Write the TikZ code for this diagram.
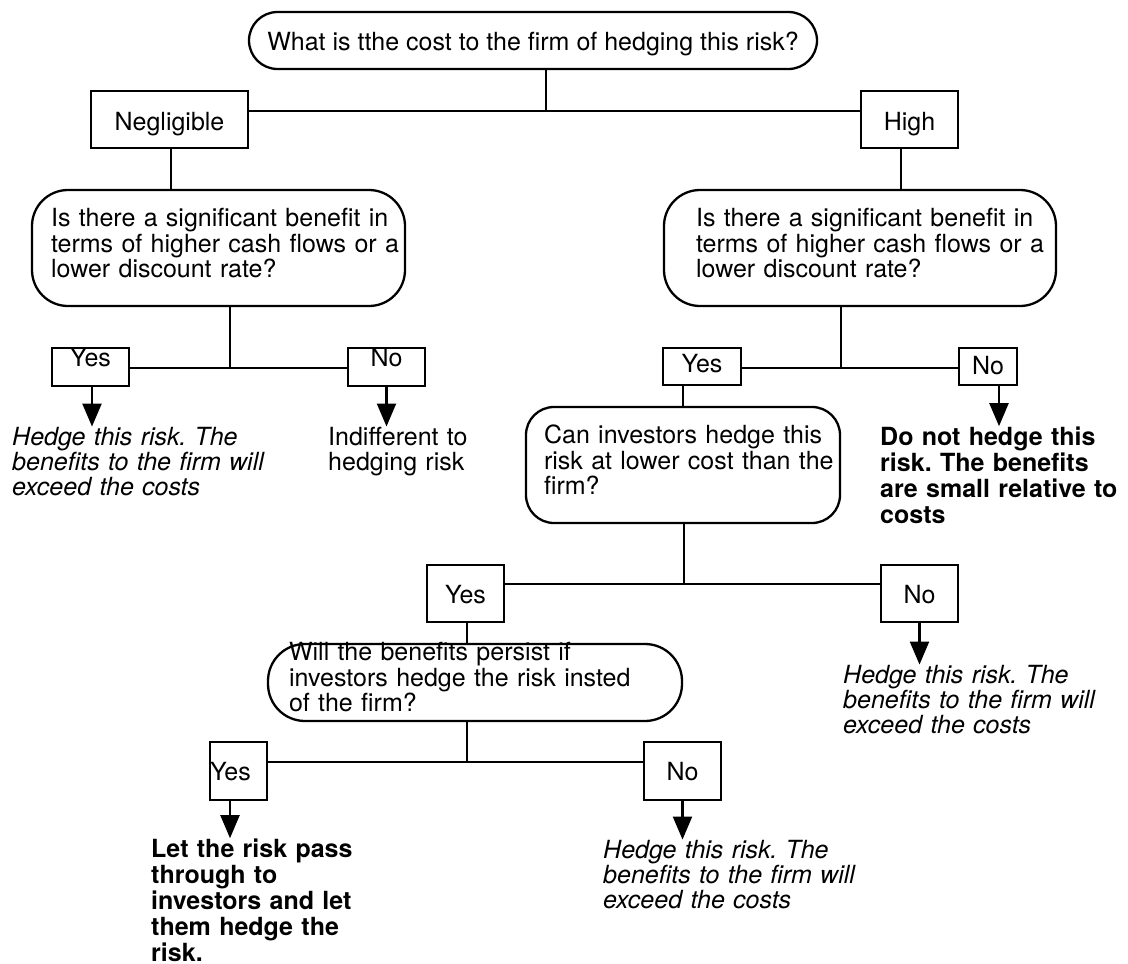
\documentclass[tikz,border=0pt]{standalone}
\usepackage{fontspec}
\setmainfont{TeX Gyre Heros}
\usetikzlibrary{arrows.meta,calc}
\frenchspacing
\begin{document}
\begin{tikzpicture}[x=1pt,y=-1pt,
  every node/.style={font=\fontsize{25}{25.5}\selectfont, inner sep=0pt},
  sqbox/.style={draw, line width=2.3pt, rectangle},
  rbox/.style={draw, line width=2.3pt, rectangle, rounded corners=#1},
  qtext/.style={anchor=base west, align=left, text width=430pt},
  ittext/.style={anchor=base west, align=left, text width=430pt, font=\fontsize{25}{25}\selectfont\itshape},
  bftext/.style={anchor=base west, align=left, text width=430pt, font=\fontsize{25}{26}\selectfont\bfseries},
  conn/.style={line width=2.2pt},
  arr/.style={line width=2.2pt, -{Triangle[length=23pt,width=19pt]}},
]
\useasboundingbox (0,0) rectangle (1128,964);

% top question
\node[rbox=28.5pt, minimum width=568pt, minimum height=57pt, text height=38pt, text depth=19pt] (top) at (533,40.5) {What is tthe cost to the firm of hedging this risk?};

% first level
\node[sqbox, minimum width=157pt, minimum height=57pt, text height=39pt, text depth=18pt] (neg) at (169.5,119.5) {Negligible};
\node[sqbox, minimum width=97pt, minimum height=57pt, text height=39pt, text depth=18pt] (high) at (909.5,119.5) {High};

% question boxes
\node[rbox=36pt, minimum width=373pt, minimum height=116pt] (q1) at (218.5,248) {};
\node[qtext] (q1t) at ($(q1.north west)+(20,38)$) {Is there a significant benefit in\\terms of higher cash flows or a\\lower discount rate?};
\node[rbox=36pt, minimum width=392pt, minimum height=116pt] (q2) at (860,248) {};
\node[qtext] (q2t) at ($(q2.north west)+(33,38)$) {Is there a significant benefit in\\terms of higher cash flows or a\\lower discount rate?};

% second level left
\node[sqbox, minimum width=77pt, minimum height=38pt, text height=18pt, text depth=20pt] (yes1) at (90.5,367) {Yes};
\node[sqbox, minimum width=77pt, minimum height=38pt, text height=18pt, text depth=20pt] (no1) at (386.5,367) {No};
% second level right
\node[sqbox, minimum width=78pt, minimum height=37pt, text height=24pt, text depth=13pt] (yes2) at (702,366.5) {Yes};
\node[sqbox, minimum width=58pt, minimum height=37pt, text height=26pt, text depth=11pt] (no2) at (988,366.5) {No};

% outcomes level 2
\node[ittext] (o1) at (12,445) {Hedge this risk. The\\benefits to the firm will\\exceed the costs};
\node[qtext] (o2) at (328,445) {Indifferent to\\hedging risk};
\node[bftext] (o3) at (880,445) {Do not hedge this\\risk. The benefits\\are small relative to\\costs};

% can investors
\node[rbox=28pt, minimum width=314pt, minimum height=116pt] (q3) at (683,465) {};
\node[qtext] (q3t) at ($(q3.north west)+(19,38)$) {Can investors hedge this\\risk at lower cost than the\\firm?};

\node[sqbox, minimum width=77pt, minimum height=57pt, text height=38pt, text depth=19pt] (yes3) at (465.5,593.5) {Yes};
\node[sqbox, minimum width=77pt, minimum height=57pt, text height=38pt, text depth=19pt] (no3) at (919.5,593.5) {No};

\node[ittext] (o4) at (843,683) {Hedge this risk. The\\benefits to the firm will\\exceed the costs};

% will the benefits persist
\node[rbox=37pt, minimum width=414pt, minimum height=77pt] (q4) at (475,682.5) {};
\node[qtext] (q4t) at ($(q4.north west)+(22,18)$) {Will the benefits persist if\\investors hedge the risk insted\\of the firm?};

\node[sqbox, minimum width=57pt, minimum height=58pt, text width=57pt, align=left, text height=38pt, text depth=20pt] (yes4) at (238.5,771) {Yes};
\node[sqbox, minimum width=77pt, minimum height=58pt, text height=38pt, text depth=20pt] (no4) at (682.5,771) {No};

\node[bftext] (o5) at (151,857) {Let the risk pass\\through to\\investors and let\\them hedge the\\risk.};
\node[ittext] (o6) at (603,858) {Hedge this risk. The\\benefits to the firm will\\exceed the costs};

% junctions
\coordinate (j0) at (546,111);
\coordinate (j1) at (230,368);
\coordinate (j2) at (841,368);
\coordinate (j3) at (684,584);
\coordinate (j4) at (467,762);

% connectors
\draw[conn] (top.south -| j0) -- (j0);
\draw[conn] (neg.east |- j0) -- (high.west |- j0);
\draw[conn] ([xshift=1.5pt]neg.south) -- ([xshift=1.5pt]neg.south |- q1.north);
\draw[conn] ([xshift=-8.5pt]high.south) -- ([xshift=-8.5pt]high.south |- q2.north);

\draw[conn] (q1.south -| j1) -- (j1);
\draw[conn] (yes1.east |- j1) -- (no1.west |- j1);
\draw[conn] (q2.south -| j2) -- (j2);
\draw[conn] (yes2.east |- j2) -- (no2.west |- j2);

\draw[arr] ([xshift=1.5pt]yes1.south) -- ([xshift=1.5pt]yes1.south |- o1.north);
\draw[arr] (no1.south) -- (no1.south |- o2.north);
\draw[arr] ([xshift=11pt]no2.south) -- ([xshift=11pt]no2.south |- o3.north);

\draw[conn] (q3.north) -- (q3.north |- yes2.south);
\draw[conn] (q3.south -| j3) -- (j3);
\draw[conn] (yes3.east |- j3) -- (no3.west |- j3);
\draw[arr] (no3.south) -- (no3.south |- o4.north);

\draw[conn] ([xshift=1.5pt]yes3.south) -- ([xshift=1.5pt]yes3.south |- q4.north);
\draw[conn] (q4.south -| j4) -- (j4);
\draw[conn] (yes4.east |- j4) -- (no4.west |- j4);
\draw[arr] ([xshift=-8.5pt]yes4.south) -- ([xshift=-8.5pt]yes4.south |- o5.north);
\draw[arr] (no4.south) -- (no4.south |- o6.north);
\end{tikzpicture}
\end{document}
